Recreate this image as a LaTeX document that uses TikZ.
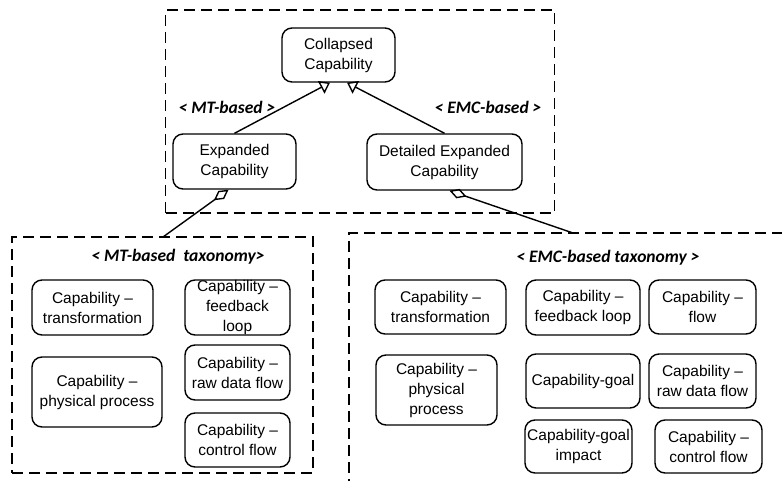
\documentclass[tikz,border=0pt]{standalone}
\usepackage{fontspec}
\setmainfont{Liberation Sans}
\newfontfamily\lblfont{Carlito}
\usetikzlibrary{arrows.meta}
\tikzset{
  capbox/.style={draw, rounded corners=10pt, line width=1.4pt, align=center, inner sep=0pt,
    font=\fontsize{15.5}{20}\selectfont},
  grp/.style={draw, dash pattern=on 11pt off 6pt, line width=1.4pt},
  lbl/.style={font=\lblfont\bfseries\itshape\fontsize{17.5}{20}\selectfont},
  gen/.style={line width=1.4pt, -{Triangle[open, length=10pt, width=14pt]}},
  agg/.style={line width=1.4pt, {Diamond[open, length=18pt, width=10pt]}-},
}
\begin{document}
\begin{tikzpicture}[x=1pt, y=-1pt]
\useasboundingbox (0,0) rectangle (782,481);
\begin{scope}
\clip (0,0) rectangle (782,481);
% group boxes
\node[grp, minimum width=389pt, minimum height=203pt, inner sep=0pt] (top) at (360,111.5) {};
\node[grp, minimum width=301pt, minimum height=236pt, inner sep=0pt] (mt) at (162.5,355) {};
\draw[grp] (800,233) -- (349,233) -- (349,500);
\coordinate (emctop) at (573,233);
\coordinate (mttop) at (163,237);

% top nodes
\node[capbox, minimum width=113pt, minimum height=54pt] (col) at (338.5,55) {Collapsed\\Capability};
\node[capbox, minimum width=123pt, minimum height=55pt] (exp) at (234.5,161.5) {Expanded\\Capability};
\node[capbox, minimum width=155pt, minimum height=56pt] (det) at (444.5,162) {Detailed Expanded\\Capability};

\draw[gen] (exp.north) -- ([xshift=-8.5pt]col.south);
\draw[gen] (det.north) -- ([xshift=8.5pt]col.south);
\node[lbl] (lmt) at (227,107) {< MT-based >};
\node[lbl] (lemc) at (488,107) {< EMC-based >};

\draw[agg] ([xshift=-6pt]exp.south) -- (mttop);
\draw[agg] ([xshift=5pt]det.south) -- (emctop);

% MT taxonomy
\node[lbl] (tmt) at (178,257) {< MT-based\ \ taxonomy>};
\node[capbox, minimum width=121pt, minimum height=55pt] (mt1) at (92.5,307.5) {Capability –\\transformation};
\node[capbox, minimum width=130pt, minimum height=70pt] (mt2) at (97,392) {Capability –\\physical process};
\node[capbox, minimum width=105pt, minimum height=55pt] (mt3) at (237.5,307.5) {};
\node[font=\fontsize{15.5}{20}\selectfont, align=center, inner sep=0pt] (mt3t) at (mt3) {Capability –\\feedback\\loop};
\node[capbox, minimum width=105pt, minimum height=55pt] (mt4) at (237.5,372.5) {Capability –\\raw data flow};
\node[capbox, minimum width=105pt, minimum height=54pt] (mt5) at (237.5,440) {Capability –\\control flow};

% EMC taxonomy
\node[lbl] (temc) at (608,258) {< EMC-based taxonomy >};
\node[capbox, minimum width=131pt, minimum height=54pt] (e1) at (440.5,307) {Capability –\\transformation};
\node[capbox, minimum width=121pt, minimum height=70pt] (e2) at (436.5,390) {Capability –\\physical\\process};
\node[capbox, minimum width=114pt, minimum height=55pt] (e3) at (583,307.5) {Capability –\\feedback loop};
\node[capbox, minimum width=107pt, minimum height=54pt] (e4) at (702.5,307) {Capability –\\flow};
\node[capbox, minimum width=114pt, minimum height=54pt] (e5) at (583,381) {Capability-goal};
\node[capbox, minimum width=107pt, minimum height=54pt] (e6) at (702.5,381) {Capability –\\raw data flow};
\node[capbox, minimum width=107pt, minimum height=53pt] (e7) at (578.5,446.5) {Capability-goal\\impact};
\node[capbox, minimum width=107pt, minimum height=53pt] (e8) at (708.5,446.5) {Capability –\\control flow};
\end{scope}
\end{tikzpicture}
\end{document}
